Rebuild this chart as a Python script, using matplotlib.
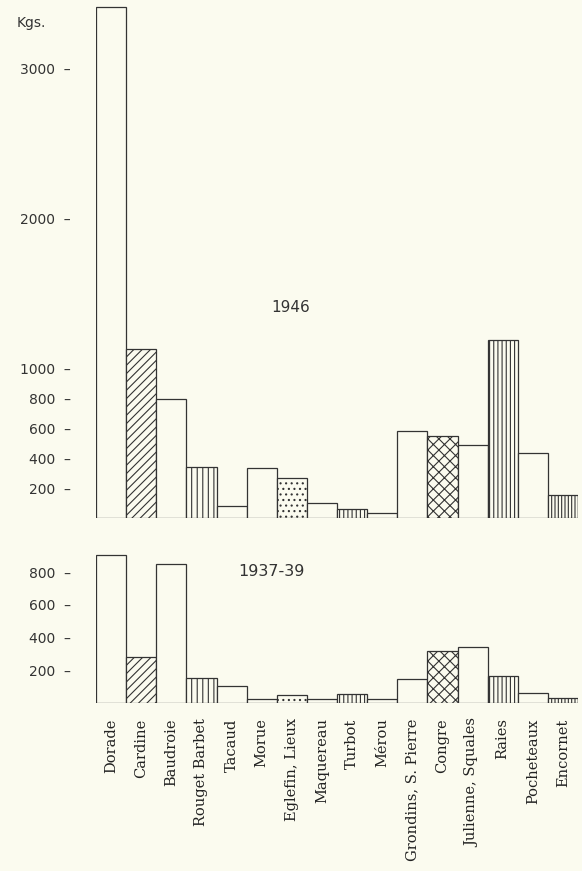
import numpy as np
import matplotlib
matplotlib.use("Agg")
import matplotlib.pyplot as plt

# ---- data ----
species = ["Dorade", "Cardine", "Baudroie", "Rouget Barbet", "Tacaud", "Morue",
           "Eglefin, Lieux", "Maquereau", "Turbot", "Mérou", "Grondins, S. Pierre",
           "Congre", "Julienne, Squales", "Raies", "Pocheteaux", "Encornet"]
kg_1946 = [3410, 1125, 795, 340, 80, 335, 265, 100, 60, 35, 580, 545, 485, 1185, 435, 155]
kg_1937_39 = [906, 280, 850, 155, 105, 25, 50, 25, 55, 25, 145, 320, 345, 165, 60, 30]
hatches = [None, "////", None, "|||", None, None, "...", None, "||||", None, None,
           "xxx", None, "||||", None, "|||||"]
top_ticks = [200, 400, 600, 800, 1000, 2000, 3000]
bottom_ticks = [200, 400, 600, 800]

BG = "#fbfbef"
INK = "#333333"
plt.rcParams["hatch.color"] = INK
plt.rcParams["hatch.linewidth"] = 0.8

W, H = 582, 871
fig = plt.figure(figsize=(W / 100, H / 100), dpi=100, facecolor=BG)

def axes_px(left, right, top, bottom):
    return fig.add_axes([left / W, 1 - bottom / H, (right - left) / W, (bottom - top) / H])

ax1 = axes_px(96, 578, 5, 518)
ax2 = axes_px(96, 578, 553, 703)

x = np.arange(len(species))
for ax, vals, ymax, ticks in [(ax1, kg_1946, 3420, top_ticks),
                              (ax2, kg_1937_39, 918, bottom_ticks)]:
    ax.set_facecolor(BG)
    bars = ax.bar(x, vals, width=1.0, color=BG, edgecolor=INK, linewidth=0.9)
    for b, h in zip(bars, hatches):
        if h:
            b.set_hatch(h)
    ax.set_xlim(-0.5, len(species) - 0.5)
    ax.set_ylim(0, ymax)
    for s in ax.spines.values():
        s.set_visible(False)
    ax.set_yticks(ticks)
    ax.set_yticklabels([f"{t}  \u2013" for t in ticks], fontsize=10, color=INK,
                       family="DejaVu Sans")
    ax.tick_params(axis="y", length=0, pad=18)

ax1.set_xticks([])
ax2.set_xticks(x)
ax2.set_xticklabels(species, rotation=90, va="top", ha="center",
                    family="DejaVu Serif", fontsize=10.5, color="#222222")
ax2.tick_params(axis="x", length=0, pad=11)

fig.text(17 / W, 1 - 23 / H, "Kgs.", fontsize=10, color=INK, ha="left", va="center")
fig.text(291 / W, 1 - 307 / H, "1946", fontsize=11, color=INK, ha="center", va="center")
fig.text(271 / W, 1 - 572 / H, "1937-39", fontsize=11.5, color=INK, ha="center", va="center")

fig.savefig("out.png", dpi=100, facecolor=BG)
